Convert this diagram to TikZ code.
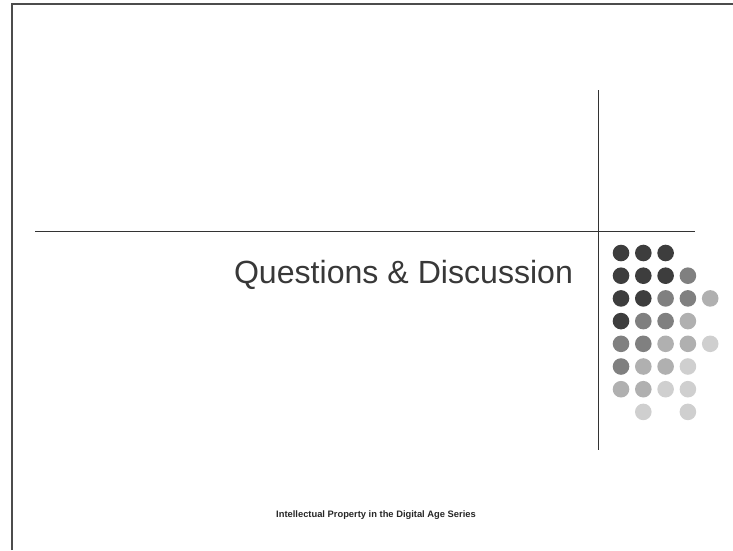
\documentclass[tikz,border=0pt]{standalone}
\usepackage{fontspec}
\setmainfont{Liberation Sans}
\begin{document}
\begin{tikzpicture}[x=1pt,y=-1pt]
        %colores
        \colorlet{oscuro}{black!76}
        \colorlet{medio}{black!50}
        \colorlet{claro}{black!31}
        \colorlet{palido}{black!19}

        \useasboundingbox (0,0) rectangle (733,550);

        % marco de la diapositiva
        \draw[black!70,line width=1.3pt](12,550) -- (12,4) -- (733,4);
        % lineas cruzadas
        \draw[black!80,line width=0.9pt](35,231) -- (695,231);
        \draw[black!80,line width=0.9pt](598,90) -- (598,450);

        % titulo y pie
        \node[text=black!78,font=\fontsize{32.1}{36}\selectfont] (titulo) at (403.5,275) {Questions \& Discussion};
        \node[text=black!85,font=\fontsize{9.35}{11}\selectfont\bfseries] (pie) at (376,515) {Intellectual Property in the Digital Age Series};

        % rejilla de puntos
        \foreach \c/\r/\col in {0/0/oscuro, 1/0/oscuro, 2/0/oscuro,
                                0/1/oscuro, 1/1/oscuro, 2/1/oscuro, 3/1/medio,
                                0/2/oscuro, 1/2/oscuro, 2/2/medio, 3/2/medio, 4/2/claro,
                                0/3/oscuro, 1/3/medio, 2/3/medio, 3/3/claro,
                                0/4/medio, 1/4/medio, 2/4/claro, 3/4/claro, 4/4/palido,
                                0/5/medio, 1/5/claro, 2/5/claro, 3/5/palido,
                                0/6/claro, 1/6/claro, 2/6/palido, 3/6/palido,
                                1/7/palido, 3/7/palido}
            \fill[\col] ({621+22.3*\c},{253+22.7*\r}) circle (8.3);
    \end{tikzpicture}
\end{document}
